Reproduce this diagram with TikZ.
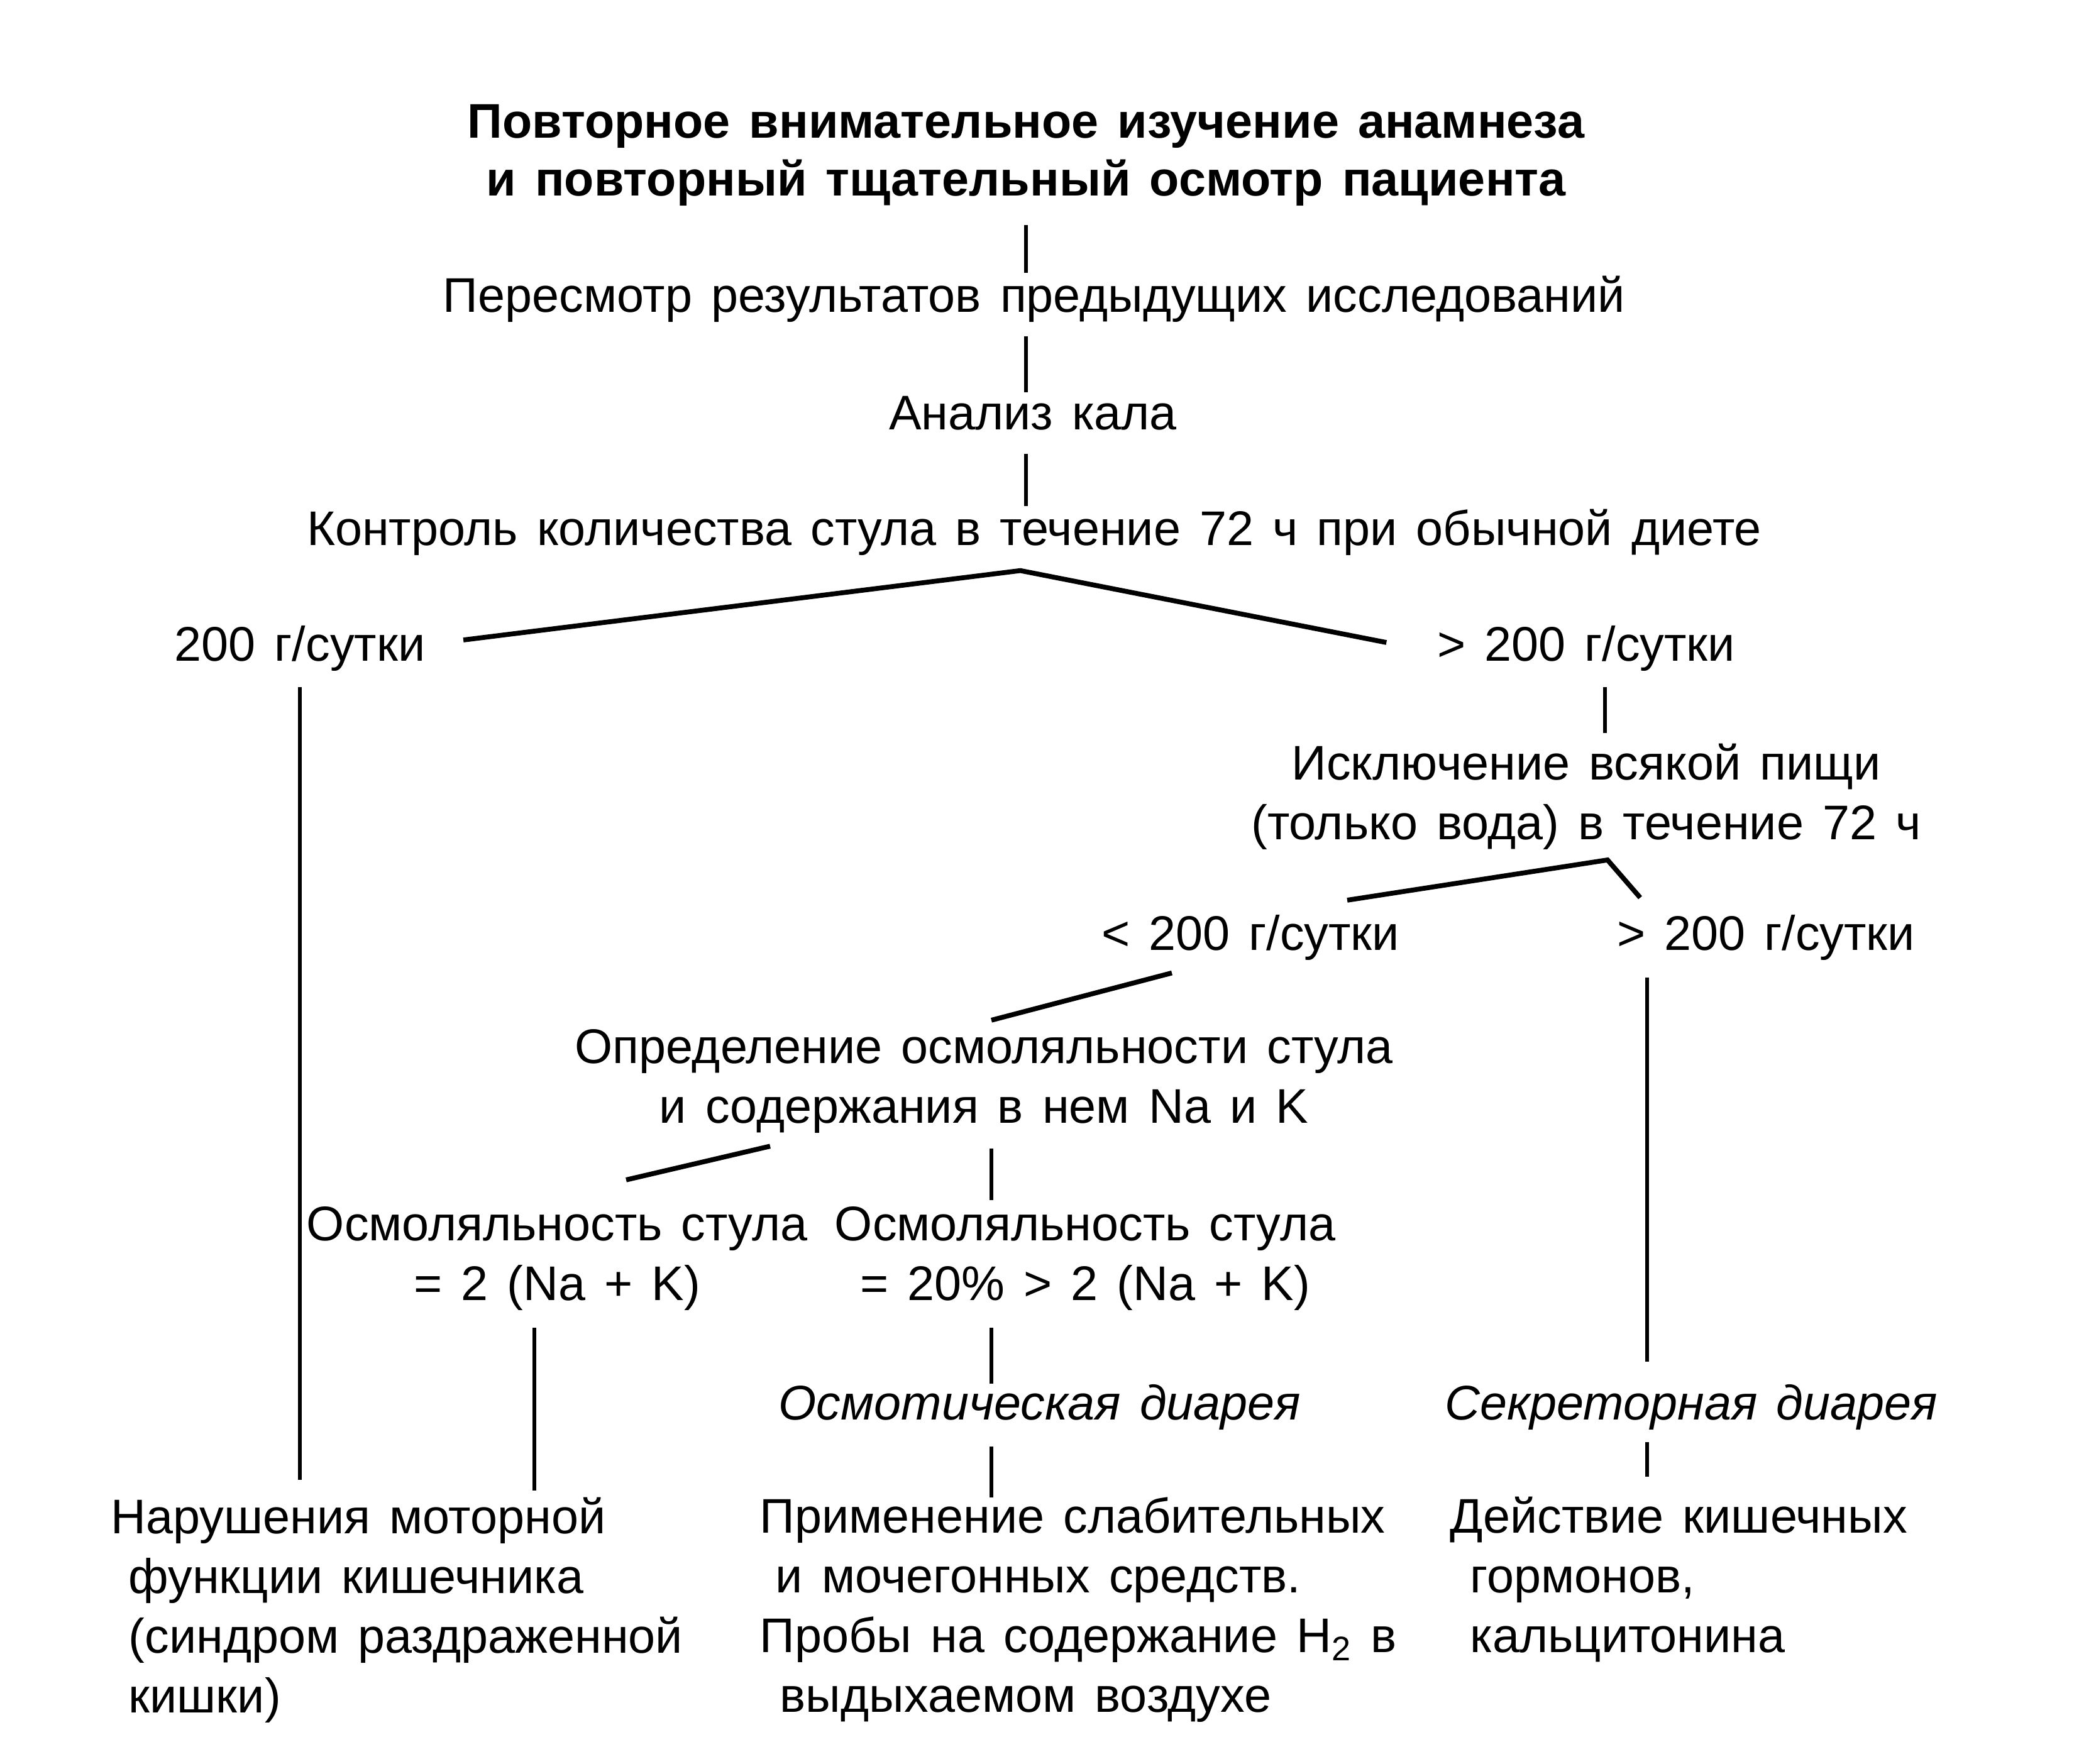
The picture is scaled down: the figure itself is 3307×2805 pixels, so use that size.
\documentclass[tikz,border=0pt]{standalone}
\usepackage{fontspec}
\setmainfont[WordSpace=1.4]{Liberation Sans}
\usetikzlibrary{calc}
\begin{document}
\begin{tikzpicture}
        [x=0.01cm,y=-0.01cm,
        txt/.style={inner sep=0pt,font=\fontsize{22}{27}\selectfont},
        one/.style={txt,text height=16pt,text depth=5pt},
        two/.style={txt,align=center},
        block/.style={txt,align=left,anchor=west},
        link/.style={line width=1.6pt},
        fork/.style={line width=2.2pt}]
        \path[fill=white,use as bounding box] (0,0) rectangle (3307,2805);
        \node[two,font=\fontsize{22}{26}\selectfont\bfseries] (title) at (1632,247)
            {Повторное внимательное изучение анамнеза\\и повторный тщательный осмотр пациента};
        \node[one] (review) at (1645,477) {Пересмотр результатов предыдущих исследований};
        \node[one] (feces) at (1643,664) {Анализ кала};
        \node[one] (control) at (1645,848) {Контроль количества стула в течение 72 ч при обычной диете};
        \node[one] (lowA) at (477,1032) {200 г/сутки};
        \node[one] (highA) at (2523,1032) {> 200 г/сутки};
        \node[two] (fast) at (2523,1267) {Исключение всякой пищи\\(только вода) в течение 72 ч};
        \node[one] (lowB) at (1989,1492) {< 200 г/сутки};
        \node[one] (highB) at (2809,1492) {> 200 г/сутки};
        \node[two] (osmo) at (1565,1720) {Определение осмоляльности стула\\и содержания в нем Na и K};
        \node[two] (eqL) at (886,2002) {Осмоляльность стула\\= 2 (Na + K)};
        \node[two] (eqR) at (1726,2002) {Осмоляльность стула\\= 20\% > 2 (Na + K)};
        \node[one,font=\fontsize{22}{27}\selectfont\itshape] (osmD) at (1654,2239) {Осмотическая диарея};
        \node[one,font=\fontsize{22}{27}\selectfont\itshape] (secD) at (2690,2239) {Секреторная диарея};
        \node[block] (motor) at (204,2561)
            {\hspace*{-0.28cm}Нарушения моторной\\функции кишечника\\(синдром раздраженной\\кишки)};
        \node[block] (laxative) at (1208,2561)
            {Применение слабительных\\\hspace*{0.25cm}и мочегонных средств.\\Пробы на содержание H\textsubscript{2} в\\\hspace*{0.32cm}выдыхаемом воздухе};
        \node[block] (hormones) at (2338,2512)
            {\hspace*{-0.32cm}Действие кишечных\\гормонов,\\кальцитонина};
        \draw[link,shorten <=0.3cm,shorten >=0.05cm] (title.south) -- (title.south |- review.north);
        \draw[link,shorten <=0.2cm,shorten >=0.02cm] (title.south |- review.south) -- (title.south |- feces.north);
        \draw[link,shorten <=0.2cm,shorten >=0.05cm] (title.south |- feces.south) -- (title.south |- control.north);
        \draw[fork] ($(lowA.east)+(60,-14)$) -- ($(control.south)+(-22,22)$) -- ($(highA.west)+(-80,-10)$);
        \draw[link,shorten <=0.23cm,shorten >=0.27cm] (lowA.south) -- (lowA.south |- motor.north);
        \draw[link,shorten <=0.23cm,shorten >=0.16cm] ($(highA.south)+(30,0)$) -- ($(highA.south |- fast.north)+(30,0)$);
        \draw[fork] ($(fast.south)+(-380,80)$) -- ($(fast.south)+(34,16)$) -- ($(fast.south)+(86,76)$);
        \draw[fork] ($(lowB.south)+(-125,18)$) -- ($(osmo.north)+(12,-14)$);
        \draw[link,shorten <=0.25cm,shorten >=0.35cm] ($(highB.south -| secD.north)+(-70,0)$) -- ($(secD.north)+(-70,0)$);
        \draw[fork] ($(osmo.south)+(-340,20)$) -- ($(eqL.north)+(110,-42)$);
        \draw[link,shorten <=0.24cm,shorten >=0.1cm] ($(osmo.south)+(12,0)$) -- ($(osmo.south |- eqR.north)+(12,0)$);
        \draw[link,shorten <=0.27cm,shorten >=0.1cm] ($(eqL.south)+(-36,0)$) -- ($(eqL.south |- motor.north)+(-36,0)$);
        \draw[link,shorten <=0.27cm] ($(osmo.south |- eqR.south)+(12,0)$) -- ($(osmo.south |- osmD.north)+(12,0)$);
        \draw[link,shorten <=0.24cm] ($(osmo.south |- osmD.south)+(12,0)$) -- ($(osmo.south |- laxative.north)+(12,0)$);
        \draw[link,shorten <=0.17cm,shorten >=0.31cm] ($(secD.south)+(-70,0)$) -- ($(secD.south |- hormones.north)+(-70,0)$);
\end{tikzpicture}
\end{document}
